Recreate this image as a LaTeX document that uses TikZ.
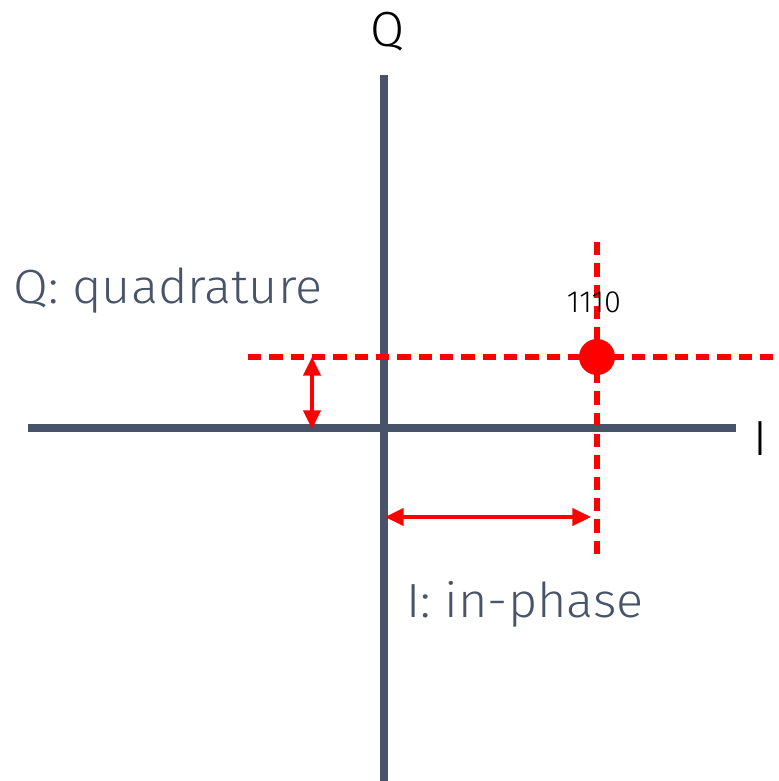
\documentclass[tikz,border=0pt]{standalone}
\usepackage{fontspec}
\setmainfont{Fira Sans Light}
\newfontfamily\capfont[FakeStretch=1.05]{Fira Sans Light}
\usetikzlibrary{arrows.meta}
\definecolor{axiscol}{RGB}{70,83,104}
\definecolor{lblcol}{RGB}{72,84,106}
\begin{document}
\begin{tikzpicture}[x=0.75pt,y=-0.75pt,
  axis/.style={draw=axiscol,line width=6pt},
  guide/.style={draw=red,line width=3.9pt,dash pattern=on 10pt off 6pt},
  meas/.style={draw=red,line width=2.6pt,{Triangle[length=14pt,width=13pt]}-{Triangle[length=14pt,width=13pt]}},
  bigtxt/.style={font=\fontsize{37}{40}\selectfont,inner sep=0pt},
  captxt/.style={font=\capfont\fontsize{36}{40}\selectfont,text=lblcol,inner sep=0pt,anchor=west}]
\useasboundingbox (0,0) rectangle (778,781);
% axes
\coordinate (qtop) at (384,75);
\coordinate (qbot) at (384,781);
\coordinate (ileft) at (28,428);
\coordinate (iright) at (736,428);
\draw[axis] (qtop) -- (qbot);
\draw[axis] (ileft) -- (iright);
\node[bigtxt] (qlab) at (388,32) {Q};
\node[bigtxt] (ilab) at (760,439) {I};
% guides
\coordinate (hl) at (248,357);
\coordinate (hr) at (778,357);
\coordinate (vt) at (597,242);
\coordinate (vb) at (597,558);
\draw[guide] (hl) -- (hr);
\draw[guide] (vt) -- (vb);
\node[circle,fill=red,minimum size=27pt,inner sep=0pt] (pt) at (597,357) {};
\node[font=\fontsize{23}{26}\selectfont,inner sep=0pt] (code) at (594,302) {1110};
% measurement arrows
\coordinate (qa1) at (312,357);
\coordinate (qa2) at (312,429);
\draw[meas] (qa1) -- (qa2);
\coordinate (ia1) at (385,517);
\coordinate (ia2) at (591,517);
\draw[meas] (ia1) -- (ia2);
% captions
\node[captxt] (qcap) at (13,291) {Q: quadrature};
\node[captxt] (icap) at (406,604) {I: in-phase};
\end{tikzpicture}
\end{document}
